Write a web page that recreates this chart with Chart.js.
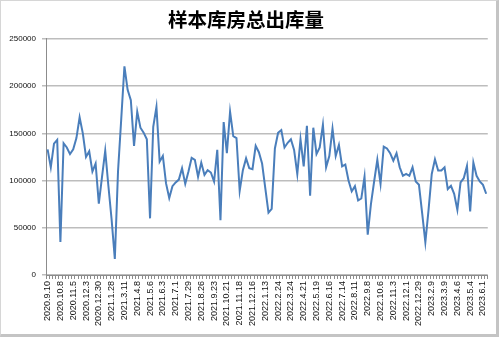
<!DOCTYPE html>
<html>
<head>
<meta charset="utf-8">
<script src="https://cdn.jsdelivr.net/npm/chart.js@4/dist/chart.umd.min.js"></script>
<style>
    html, body { margin: 0; padding: 0; background: #fff; }
    #wrap { position: relative; width: 499px; height: 337px; }
    #frame {
        position: absolute; left: 0; top: 0; width: 499px; height: 337px;
        box-sizing: border-box; pointer-events: none;
        border-top: 1px solid #d6d6d6; border-left: 1px solid #d6d6d6;
        border-right: 3px solid #c4c4c4; border-bottom: 3px solid #c4c4c4;
    }
</style>
</head>
<body>
<div id="wrap">
    <canvas id="chart" width="499" height="337"></canvas>
    <div id="frame"></div>
</div>
<script>
// Axis labels shown every 4th week
const tickLabels = [
    '2020.9.10', '2020.10.8', '2020.11.5', '2020.12.3', '2020.12.30', '2021.1.28',
    '2021.3.11', '2021.4.8', '2021.5.6', '2021.6.3', '2021.7.1', '2021.7.29',
    '2021.8.26', '2021.9.23', '2021.10.21', '2021.11.18', '2021.12.16', '2022.1.13',
    '2022.2.24', '2022.3.24', '2022.4.21', '2022.5.19', '2022.6.16', '2022.7.14',
    '2022.8.11', '2022.9.8', '2022.10.6', '2022.11.3', '2022.12.1', '2022.12.29',
    '2023.2.9', '2023.3.9', '2023.4.6', '2023.5.4', '2023.6.1'
];

// Weekly total outbound volume
const outbound = [
    133000, 114000, 139000, 143000, 35000, 139500, 135000, 128000, 133000, 145000,
    167000, 150000, 125000, 131000, 109500, 118000, 75500, 104000, 131700, 94000,
    58500, 17000, 110000, 165000, 221000, 196000, 185000, 136700, 173000, 156000,
    150700, 143700, 60000, 157000, 178000, 120000, 126000, 97000, 81500, 94000,
    98000, 101000, 113000, 96500, 109500, 124000, 122000, 104000, 119000, 106000,
    111000, 108500, 99000, 132500, 58000, 162000, 129000, 173000, 147000, 145000,
    89000, 111000, 123500, 113000, 112000, 136700, 130000, 118000, 92000, 66000,
    70000, 134000, 150700, 153500, 135000, 140000, 143700, 132500, 107000, 143700,
    115000, 158000, 84000, 156000, 128000, 135000, 159000, 114000, 126000, 155000,
    126000, 137700, 115000, 117000, 100000, 88500, 94000, 79000, 81000, 104000,
    42700, 75000, 99000, 122000, 96500, 136000, 134000, 129000, 121000, 129000,
    114000, 105000, 107000, 105000, 114000, 99000, 95500, 65500, 34500, 69000,
    107000, 122500, 110600, 110600, 114000, 91000, 94400, 86000, 69000, 98000,
    102500, 115500, 67300, 119000, 105000, 99000, 95500, 86000
];

const yMax = 250000;
const yStep = 50000;

// one category per week, only every 4th one labelled
const categories = outbound.map((v, i) => (i % 4 === 0 ? tickLabels[i / 4] : ''));

new Chart(document.getElementById('chart'), {
    type: 'line',
    data: {
        labels: categories,
        datasets: [{
            data: outbound,
            borderColor: '#4a7ebb',
            borderWidth: 2,
            pointRadius: 0,
            tension: 0,
            fill: false
        }]
    },
    options: {
        responsive: false,
        animation: false,
        layout: { padding: { left: 0, right: 7, top: 0, bottom: 0 } },
        plugins: {
            legend: { display: false },
            tooltip: { enabled: false },
            title: {
                display: true,
                text: '样本库房总出库量',
                color: '#000',
                font: { family: '"Noto Sans CJK SC"', size: 19.5, weight: 'bold' },
                padding: { top: 8, bottom: 7.5 }
            }
        },
        scales: {
            x: {
                offset: true,
                afterFit: (scale) => { scale.height = 62; },
                grid: {
                    offset: true,
                    drawOnChartArea: false,
                    drawTicks: true,
                    tickLength: 4,
                    color: '#8c8c8c'
                },
                border: { color: '#8c8c8c', width: 1 },
                ticks: {
                    autoSkip: false,
                    maxRotation: 90,
                    minRotation: 90,
                    padding: 2,
                    color: '#111',
                    font: { family: '"Liberation Sans"', size: 9 }
                }
            },
            y: {
                min: 0,
                max: yMax,
                afterFit: (scale) => { scale.width = 46; },
                grid: {
                    color: '#bdbdbd',
                    lineWidth: 1.5,
                    tickLength: 4
                },
                border: { color: '#8c8c8c', width: 1 },
                ticks: {
                    stepSize: yStep,
                    padding: 6,
                    color: '#111',
                    font: { family: '"Liberation Sans"', size: 8 },
                    callback: (value) => String(value)
                }
            }
        }
    }
});
</script>
</body>
</html>
